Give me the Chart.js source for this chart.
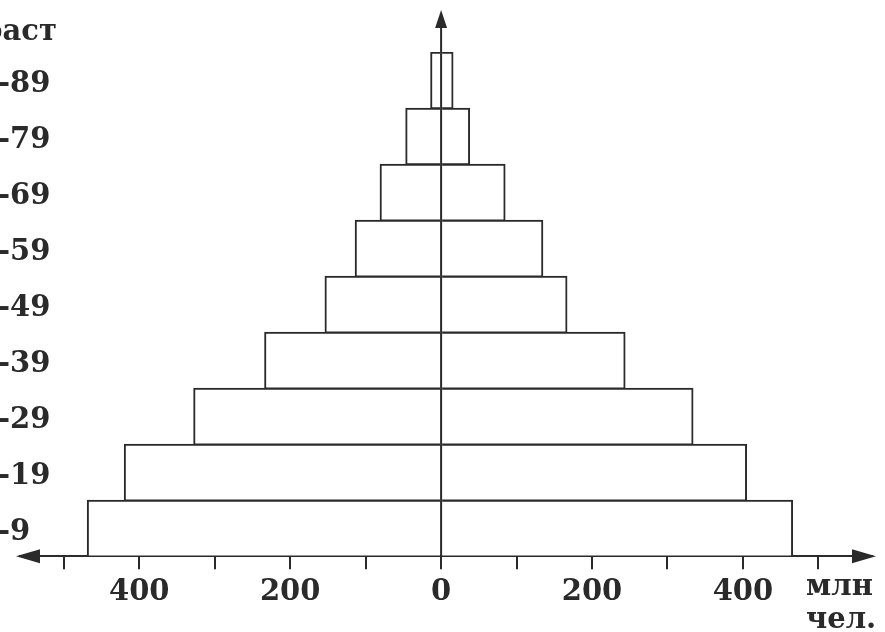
<!DOCTYPE html>
<html>
<head>
<meta charset="utf-8">
<script src="https://cdn.jsdelivr.net/npm/chart.js@4"></script>
<style>
  body { margin: 0; background: #fff; }
  #wrap { width: 885px; height: 632px; position: relative; }
</style>
</head>
<body>
<div id="wrap"><canvas id="pyramid"></canvas></div>
<script>
// age groups, youngest first
const ageGroups = ['0-9', '10-19', '20-29', '30-39', '40-49', '50-59', '60-69', '70-79', '80-89'];
// millions of people
const leftSide = [469, 420, 328, 234, 154, 114, 81, 47, 14];
const rightSide = [466, 405, 334, 244, 167, 135, 85, 38, 16];
const tickValues = [-500, -400, -300, -200, -100, 0, 100, 200, 300, 400, 500];
const labeledTicks = [-400, -200, 0, 200, 400];

const ink = '#2a2a2a';
const font = 'bold 29px "DejaVu Serif", serif';

const pyramidExtras = {
    id: 'pyramidExtras',
    afterDatasetsDraw(chart) {
        const { ctx, scales: { x, y }, chartArea } = chart;
        const x0 = x.getPixelForValue(0);
        const axisY = chartArea.bottom;
        ctx.save();
        ctx.strokeStyle = ink;
        ctx.fillStyle = ink;
        ctx.lineWidth = 2;

        // vertical axis with arrow
        ctx.beginPath();
        ctx.moveTo(x0, 24);
        ctx.lineTo(x0, axisY);
        ctx.stroke();
        ctx.beginPath();
        ctx.moveTo(x0, 10);
        ctx.lineTo(x0 - 6, 28);
        ctx.lineTo(x0 + 6, 28);
        ctx.closePath();
        ctx.fill();

        // horizontal arrows
        ctx.beginPath();
        ctx.moveTo(chartArea.left - 4, axisY);
        ctx.lineTo(chartArea.left + 20, axisY - 7);
        ctx.lineTo(chartArea.left + 20, axisY + 7);
        ctx.closePath();
        ctx.fill();
        ctx.beginPath();
        ctx.moveTo(chartArea.right + 4, axisY);
        ctx.lineTo(chartArea.right - 20, axisY - 7);
        ctx.lineTo(chartArea.right - 20, axisY + 7);
        ctx.closePath();
        ctx.fill();

        // age labels, cut at the left edge as in the scan
        ctx.font = font;
        ctx.textBaseline = 'middle';
        const hx = -2;
        ageGroups.forEach((g, i) => {
            const py = y.getPixelForValue(i) + 4;
            const [a, b] = g.split('-');
            ctx.textAlign = 'right';
            ctx.fillText(a, hx, py);
            ctx.textAlign = 'left';
            ctx.fillText('-' + b, hx, py);
        });

        ctx.textAlign = 'right';
        ctx.fillText('Возраст', 57, 32);

        ctx.textAlign = 'left';
        ctx.fillText('млн', 806, 587);
        ctx.fillText('чел.', 806, 620);
        ctx.restore();
    }
};

new Chart(document.getElementById('pyramid'), {
    type: 'bar',
    data: {
        labels: ageGroups,
        datasets: [
            {
                label: 'left',
                data: leftSide.map(v => -v),
                backgroundColor: '#ffffff',
                borderColor: ink,
                borderWidth: { left: 2, right: 0, top: 2, bottom: 1 },
                borderSkipped: false
            },
            {
                label: 'right',
                data: rightSide,
                backgroundColor: '#ffffff',
                borderColor: ink,
                borderWidth: { left: 0, right: 2, top: 2, bottom: 1 },
                borderSkipped: false
            }
        ]
    },
    options: {
        indexAxis: 'y',
        responsive: true,
        maintainAspectRatio: false,
        animation: false,
        layout: { padding: { top: 52, left: 20, right: 13, bottom: 16 } },
        plugins: {
            legend: { display: false },
            tooltip: { enabled: false }
        },
        datasets: { bar: { categoryPercentage: 1, barPercentage: 1 } },
        scales: {
            x: {
                stacked: true,
                min: -558,
                max: 571,
                afterBuildTicks: s => { s.ticks = tickValues.map(v => ({ value: v })); },
                ticks: {
                    autoSkip: false,
                    maxRotation: 0,
                    padding: 6,
                    color: ink,
                    font: { family: '"DejaVu Serif", serif', size: 29, weight: 'bold' },
                    callback: v => labeledTicks.includes(v) ? String(Math.abs(v)) : ''
                },
                grid: { drawOnChartArea: false, drawTicks: true, tickLength: 13, color: ink, lineWidth: 2 },
                border: { display: true, color: ink, width: 2 }
            },
            y: {
                stacked: true,
                reverse: true,
                display: false
            }
        }
    },
    plugins: [pyramidExtras]
});
</script>
</body>
</html>
